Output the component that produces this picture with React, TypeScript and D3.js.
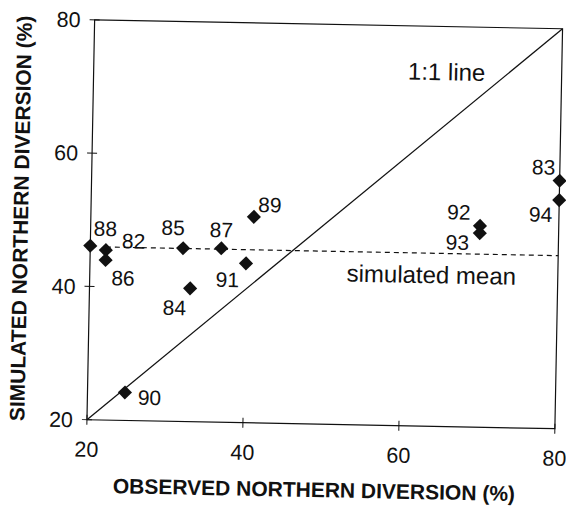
import React from "react";
import * as d3 from "d3";

// ---- data ----
const years = ["82", "83", "84", "85", "86", "87", "88", "89", "90", "91", "92", "93", "94"];
const observed = [22.0, 80.0, 32.9, 31.9, 22.0, 36.8, 20.0, 40.9, 24.8, 40.0, 69.9, 69.9, 80.0];
const simulated = [45.5, 57.2, 40.0, 46.0, 44.0, 46.1, 46.1, 50.9, 24.2, 43.9, 50.2, 49.1, 54.3];
const xTicks = [20, 40, 60, 80];
const yTicks = [20, 40, 60, 80];
const xTitle = "OBSERVED NORTHERN DIVERSION (%)";
const yTitle = "SIMULATED NORTHERN DIVERSION (%)";
const oneToOneLabel = "1:1 line";
const meanLabel = "simulated mean";

// label placement (px offsets from each marker: left edge, baseline)
const labelOffsets: Record<string, [number, number]> = {
  "82": [16, -2],
  "83": [-28, -6],
  "84": [-27, 27],
  "85": [-22, -13],
  "86": [6, 25],
  "87": [-12, -11],
  "88": [3, -10],
  "89": [4, -5],
  "90": [13, 12],
  "91": [-30, 24],
  "92": [-33, -6],
  "93": [-34, 17],
  "94": [-30, 22],
};

const W = 566;
const H = 506;
const left = 90.75, right = 558.75, top = 24.25, bottom = 424.25;
const cx = (left + right) / 2, cy = (top + bottom) / 2;
const tilt = 1.1;
const ink = "#111";
const font = "'Liberation Sans', Arial, Helvetica, sans-serif";

export default function App() {
  const x = d3.scaleLinear().domain([20, 80]).range([left, right]);
  const y = d3.scaleLinear().domain([20, 80]).range([bottom, top]);
  const meanSim = d3.mean(simulated) as number;
  const diamond = d3.symbol().type(d3.symbolSquare).size(100)() as string;
  const line = d3.line<[number, number]>().x((d) => x(d[0])).y((d) => y(d[1]));
  const tk = 5;

  return (
    <svg
      width={W}
      height={H}
      style={{ position: "absolute", left: 0, top: 0, background: "#fff", display: "block" }}
      fontFamily={font}
    >
      <rect x={0} y={0} width={W} height={H} fill="#fff" />
      <g transform={`rotate(${tilt}, ${cx}, ${cy})`}>
        {/* frame */}
        <rect x={left} y={top} width={right - left} height={bottom - top} fill="none" stroke={ink} strokeWidth={1.2} />
        {/* ticks */}
        {yTicks.map((t) => (
          <g key={"yt" + t}>
            <line x1={left - tk} x2={left + tk} y1={y(t)} y2={y(t)} stroke={ink} strokeWidth={1} />
            <text x={left - 14} y={y(t)} dy="0.36em" textAnchor="end" fontSize={21.5} fill={ink}>
              {t}
            </text>
          </g>
        ))}
        {xTicks.map((t) => (
          <g key={"xt" + t}>
            <line x1={x(t)} x2={x(t)} y1={bottom - tk} y2={bottom + tk} stroke={ink} strokeWidth={1} />
            <text x={x(t)} y={bottom + 37} textAnchor="middle" fontSize={21.5} fill={ink}>
              {t}
            </text>
          </g>
        ))}
        {/* 1:1 line */}
        <path d={line([[20, 20], [80, 80]]) as string} fill="none" stroke={ink} strokeWidth={1.3} />
        {/* simulated mean */}
        <path
          d={line([[22, meanSim], [80, meanSim]]) as string}
          fill="none"
          stroke={ink}
          strokeWidth={1.2}
          strokeDasharray="5,4"
        />
        {/* points */}
        {years.map((yr, i) => (
          <g key={yr}>
            <path
              d={diamond}
              transform={`translate(${x(observed[i])},${y(simulated[i])}) rotate(45)`}
              fill={ink}
            />
            <text
              x={x(observed[i]) + labelOffsets[yr][0]}
              y={y(simulated[i]) + labelOffsets[yr][1]}
              fontSize={21}
              fill={ink}
            >
              {yr}
            </text>
          </g>
        ))}
        {/* annotations */}
        <text x={405} y={78} fontSize={24} fill={ink}>
          {oneToOneLabel}
        </text>
        <text x={517} y={y(meanSim) + 30} textAnchor="end" fontSize={24} fill={ink}>
          {meanLabel}
        </text>
        {/* axis titles */}
        <text x={319} y={bottom + 73} textAnchor="middle" fontSize={21} fontWeight="bold" fill={ink}>
          {xTitle}
        </text>
        <text
          transform={`translate(28, ${cy}) rotate(-90)`}
          textAnchor="middle"
          fontSize={21}
          fontWeight="bold"
          fill={ink}
        >
          {yTitle}
        </text>
      </g>
    </svg>
  );
}
